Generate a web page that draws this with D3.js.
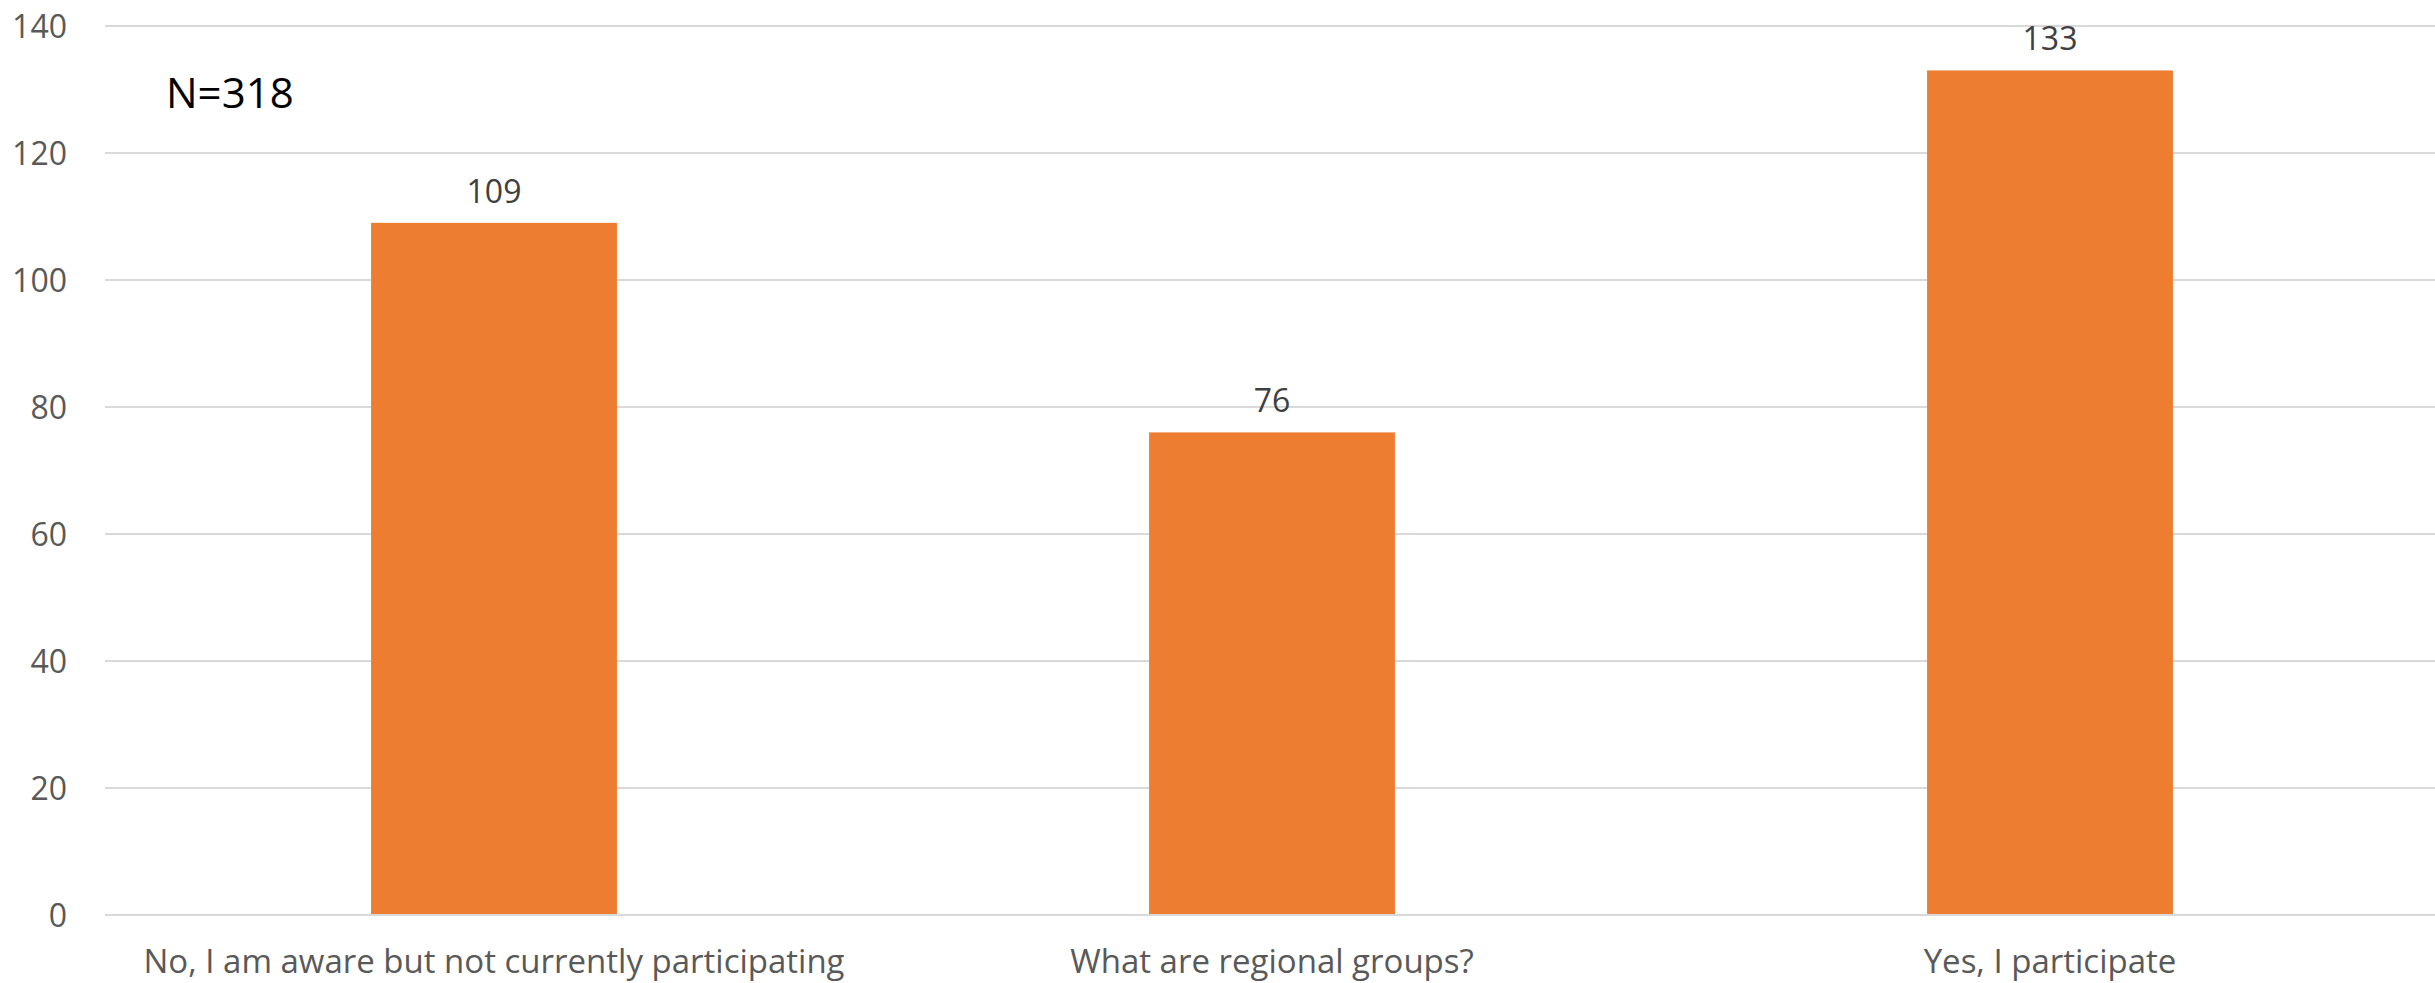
<!DOCTYPE html>
<html><head><meta charset="utf-8">
<script src="https://cdn.jsdelivr.net/npm/d3@7"></script>
<style>html,body{margin:0;padding:0;background:#fff;overflow:hidden}</style>
</head><body>
<svg id="chart" width="2435" height="983"></svg>
<script>
const categories = ["No, I am aware but not currently participating", "What are regional groups?", "Yes, I participate"];
const values = [109, 76, 133];
const yTicks = [0, 20, 40, 60, 80, 100, 120, 140];
const note = "N=318";

const svg = d3.select("#chart");
const font = "'Open Sans', sans-serif";
const x = d3.scaleBand().domain(categories).range([105, 2439]).paddingInner(0.684).paddingOuter(0.342);
const y = d3.scaleLinear().domain([0, 140]).range([915, 26]);

// gridlines
svg.append("g").selectAll("line").data(yTicks).join("line")
  .attr("x1", 105).attr("x2", 2435)
  .attr("y1", d => y(d)).attr("y2", d => y(d))
  .attr("stroke", "#d9d9d9").attr("stroke-width", 2);

// y axis labels
const yAxis = d3.axisLeft(y).tickValues(yTicks).tickSize(0).tickPadding(0);
const ya = svg.append("g").attr("transform", "translate(67,0)").call(yAxis);
ya.select(".domain").remove();
ya.selectAll("text").attr("font-family", font).attr("font-size", 32).attr("fill", "#595959").attr("dy", "0.36em");

// bars
svg.append("g").selectAll("rect").data(values).join("rect")
  .attr("x", (d, i) => x(categories[i]))
  .attr("width", x.bandwidth())
  .attr("y", d => y(d))
  .attr("height", d => y(0) - y(d))
  .attr("fill", "#ED7D31");

// baseline
svg.append("line").attr("x1", 105).attr("x2", 2435).attr("y1", y(0)).attr("y2", y(0))
  .attr("stroke", "#d9d9d9").attr("stroke-width", 2);

// data labels
svg.append("g").selectAll("text").data(values).join("text")
  .attr("x", (d, i) => x(categories[i]) + x.bandwidth() / 2)
  .attr("y", d => y(d) - 20)
  .attr("text-anchor", "middle")
  .attr("font-family", font).attr("font-size", 32).attr("fill", "#404040")
  .text(d => d);

// x axis labels
const xAxis = d3.axisBottom(x).tickSize(0).tickPadding(0);
const xa = svg.append("g").attr("transform", "translate(0,973)").call(xAxis);
xa.select(".domain").remove();
xa.selectAll("text").attr("font-family", font).attr("font-size", 33).attr("fill", "#595959").attr("dy", 0);

// note
svg.append("text").attr("x", 166).attr("y", 108)
  .attr("font-family", font).attr("font-size", 42).attr("fill", "#000").text(note);
</script>
</body></html>
